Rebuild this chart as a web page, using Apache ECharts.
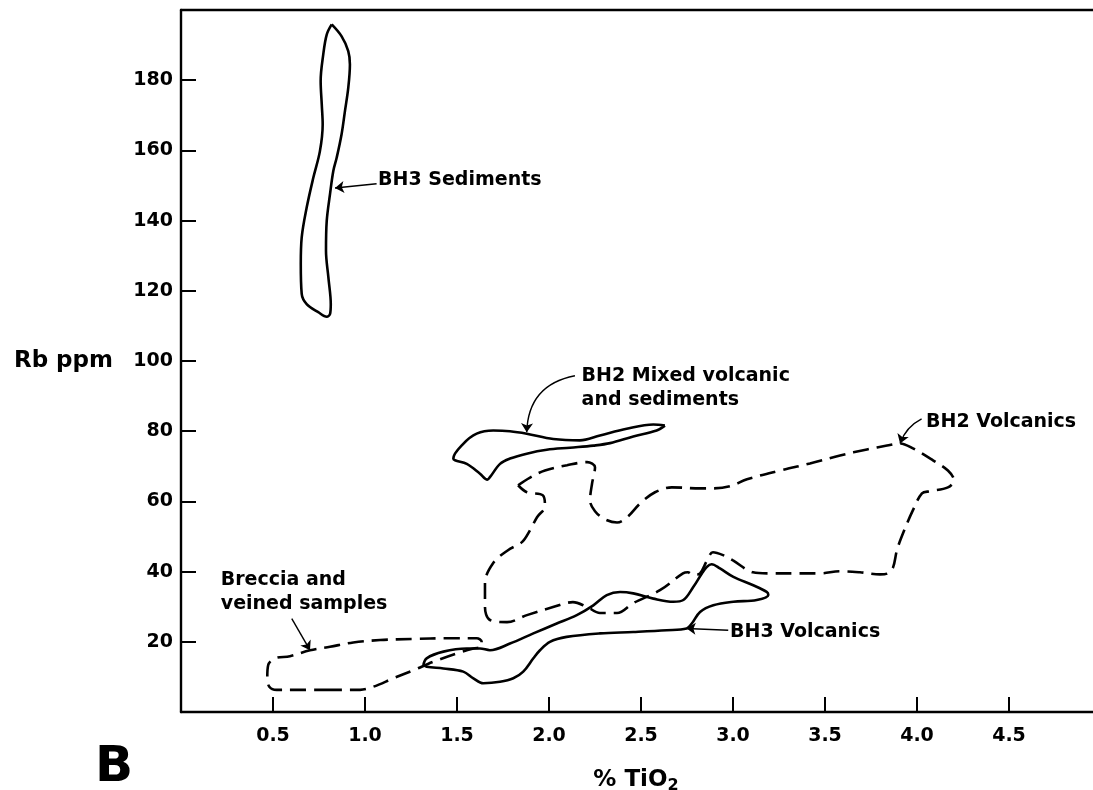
<!DOCTYPE html>
<html><head><meta charset="utf-8">
<script src="https://cdn.jsdelivr.net/npm/echarts@6/dist/echarts.min.js"></script>
<style>html,body{margin:0;padding:0;background:#fff}#c{width:1093px;height:790px}</style>
</head><body><div id="c"></div>
<script>
// Tick labels
const xTickLabels = ['0.5','1.0','1.5','2.0','2.5','3.0','3.5','4.0','4.5'];
const yTickLabels = ['20','40','60','80','100','120','140','160','180'];

// Field outlines: [TiO2 %, Rb ppm]
const bh3Sediments = [[0.819,195.9],[0.873,192.5],[0.909,188.3],[0.918,184.5],[0.909,177.8],[0.891,171.2],[0.873,164.7],[0.846,157.9],[0.828,154.2],[0.810,147.6],[0.792,139.9],[0.788,131.4],[0.801,123.8],[0.814,116.2],[0.810,113.4],[0.792,112.6],[0.746,113.9],[0.683,116.2],[0.656,119.1],[0.651,127.6],[0.656,135.2],[0.683,143.7],[0.719,152.2],[0.755,159.8],[0.770,167.4],[0.765,173.1],[0.759,179.8],[0.773,187.3],[0.792,193.0],[0.819,195.9]];

const bh2Mixed = [[2.630,81.6],[2.585,80.2],[2.458,78.5],[2.332,76.6],[2.241,75.9],[2.114,75.3],[1.988,74.7],[1.879,73.6],[1.788,72.2],[1.734,70.7],[1.679,66.9],[1.665,66.2],[1.625,67.9],[1.553,70.7],[1.489,71.7],[1.480,72.2],[1.534,76.4],[1.607,79.3],[1.697,80.2],[1.788,80.0],[1.879,79.3],[2.023,77.8],[2.168,77.4],[2.277,78.8],[2.422,80.7],[2.567,81.9],[2.630,81.6]];

const bh2Volcanics = [[1.832,64.6],[1.897,66.8],[1.978,68.8],[2.098,70.3],[2.207,71.2],[2.250,69.7],[2.234,65.1],[2.223,60.3],[2.250,57.2],[2.304,54.9],[2.370,54.0],[2.429,55.7],[2.495,59.4],[2.576,62.6],[2.668,64.0],[2.821,63.7],[2.891,63.7],[2.984,64.3],[3.076,66.3],[3.255,68.8],[3.418,70.8],[3.582,73.1],[3.728,74.8],[3.837,75.9],[3.908,76.5],[3.978,75.1],[4.087,71.7],[4.168,68.8],[4.201,66.0],[4.168,64.0],[4.071,62.9],[4.027,62.3],[3.978,57.5],[3.924,50.9],[3.891,46.1],[3.870,41.2],[3.842,39.5],[3.799,39.2],[3.690,39.8],[3.582,40.1],[3.473,39.5],[3.364,39.5],[3.185,39.5],[3.109,39.8],[3.000,43.2],[2.946,44.7],[2.891,45.5],[2.859,43.2],[2.821,39.5],[2.783,39.0],[2.755,39.8],[2.728,39.5],[2.603,34.7],[2.457,31.0],[2.370,28.2],[2.277,28.2],[2.207,29.9],[2.130,31.3],[2.022,29.9],[1.880,27.6],[1.772,25.6],[1.679,26.2],[1.652,29.9],[1.652,36.7],[1.696,42.4],[1.777,46.1],[1.853,48.4],[1.897,51.8],[1.935,55.5],[1.978,58.6],[1.967,61.7],[1.880,62.6],[1.832,64.6]];

const bh3Volcanics = [[1.317,13.4],[1.335,15.3],[1.426,17.2],[1.553,18.1],[1.625,18.1],[1.679,17.6],[1.788,19.5],[1.915,22.4],[2.042,25.2],[2.151,27.6],[2.241,30.4],[2.314,33.3],[2.386,34.2],[2.458,33.8],[2.567,32.3],[2.676,31.4],[2.730,31.9],[2.784,35.6],[2.830,39.4],[2.857,41.3],[2.884,42.1],[2.929,40.9],[3.002,38.5],[3.110,36.1],[3.183,34.2],[3.192,33.3],[3.129,31.9],[3.002,31.4],[2.893,30.4],[2.821,28.5],[2.776,25.2],[2.748,23.8],[2.640,23.3],[2.458,22.8],[2.277,22.4],[2.096,21.4],[2.005,20.0],[1.951,17.6],[1.915,15.3],[1.860,11.5],[1.806,9.6],[1.734,8.6],[1.643,8.2],[1.589,9.6],[1.534,11.5],[1.426,12.4],[1.335,12.9],[1.317,13.4]];

const breccia = [[0.810,6.3],[0.629,6.3],[0.520,6.3],[0.480,7.2],[0.469,10.0],[0.474,13.4],[0.511,15.3],[0.592,15.9],[0.701,17.6],[0.810,18.6],[0.936,19.8],[1.082,20.5],[1.263,20.8],[1.444,21.0],[1.607,21.0],[1.634,20.0],[1.634,18.6],[1.589,18.1],[1.498,16.7],[1.371,14.3],[1.263,11.9],[1.154,9.6],[1.045,7.2],[0.973,6.3],[0.810,6.3]];

// Annotation texts and their anchor points (left edge, vertical middle)
const labelTexts = ['BH3 Sediments','BH2 Mixed volcanic\nand sediments','BH2 Volcanics','BH3 Volcanics','Breccia and\nveined samples'];
const labelAnchors = [[1.071,151.9],[2.177,92.7],[4.049,83.0],[2.984,23.0],[0.216,34.4]];

// Leader arrows: start -> end (arrow head at end)
const arrowStarts = [[1.063,150.5],[2.141,95.8],[4.025,83.5],[2.974,23.3],[0.602,26.6]];
const arrowEnds   = [[0.837,149.3],[1.879,79.7],[3.908,76.5],[2.748,23.8],[0.701,17.6]];
const arrowBend   = [0,-0.4,-0.2,0,0];

const FONT = 'DejaVu Sans';
const chart = echarts.init(document.getElementById('c'), null, {renderer:'canvas'});

function outline(data, dashed){
  return {type:'line', xAxisIndex:0, yAxisIndex:0, data:data, smooth:0.35, showSymbol:false, symbol:'none', animation:false,
    lineStyle:{color:'#000', width:2.6, type: dashed ? [16,8] : 'solid', cap:'butt'}, z:3, silent:true};
}

chart.setOption({
  animation:false,
  backgroundColor:'#fff',
  grid:{left:181, width:920, top:10, bottom:78, show:false, containLabel:false, outerBoundsMode:'none'},
  xAxis:[{type:'value', min:0, max:5, interval:0.5,
    axisLine:{show:true, onZero:false, lineStyle:{color:'#000', width:2.4}},
    axisTick:{show:true, inside:true, length:15, lineStyle:{color:'#000', width:2}},
    splitLine:{show:false},
    axisLabel:{margin:15, color:'#000', fontFamily:FONT, fontWeight:'bold', fontSize:19,
      formatter:function(v){ const s=v.toFixed(1); return xTickLabels.indexOf(s)>=0 ? s : ''; }},
    name:'{a|% TiO}{b|2}', nameLocation:'middle', nameGap:54,
    nameTextStyle:{padding:[0,10,0,0], rich:{a:{fontFamily:FONT, fontWeight:'bold', fontSize:23, color:'#000'},
      b:{fontFamily:FONT, fontWeight:'bold', fontSize:16, color:'#000', padding:[12,0,0,0]}}}
  },{type:'value', position:'top', min:0, max:5,
    axisLine:{show:true, onZero:false, lineStyle:{color:'#000', width:2.4}},
    axisTick:{show:false}, axisLabel:{show:false}, splitLine:{show:false}}],
  yAxis:{type:'value', min:0, max:200, interval:20,
    axisLine:{show:true, onZero:false, lineStyle:{color:'#000', width:2.4}},
    axisTick:{show:true, inside:true, length:15, lineStyle:{color:'#000', width:2}},
    splitLine:{show:false},
    axisLabel:{margin:8, color:'#000', fontFamily:FONT, fontWeight:'bold', fontSize:19,
      formatter:function(v){ const s=String(v); return yTickLabels.indexOf(s)>=0 ? s : ''; }},
    name:'Rb ppm', nameLocation:'middle', nameRotate:0, nameGap:68,
    nameTextStyle:{fontFamily:FONT, fontWeight:'bold', fontSize:23, color:'#000'}
  },
  graphic:[{type:'text', left:95, top:743, style:{text:'B', fontFamily:FONT, fontWeight:'bold', fontSize:50, fill:'#000'}}],
  series:[
    outline(bh3Sediments,false),
    outline(bh2Mixed,false),
    outline(bh2Volcanics,true),
    outline(bh3Volcanics,false),
    outline(breccia,true),
    {type:'scatter', data:labelAnchors.map((p,i)=>({value:p, name:labelTexts[i]})), symbolSize:0, silent:true, z:5,
      itemStyle:{opacity:1, color:'#000'},
      label:{show:true, position:'right', distance:0, align:'left', verticalAlign:'middle', offset:[0,1],
        formatter:function(p){return p.name;}, fontFamily:FONT, fontWeight:'bold', fontSize:19, lineHeight:24, color:'#000', opacity:1}},
    {type:'lines', coordinateSystem:'cartesian2d', symbol:['none','arrow'], symbolSize:9, silent:true, z:4,
      lineStyle:{color:'#000', width:1.4, opacity:1},
      data: arrowStarts.map((s,i)=>({coords:[s, arrowEnds[i]], lineStyle:{curveness:arrowBend[i]}}))}
  ]
});
</script></body></html>
